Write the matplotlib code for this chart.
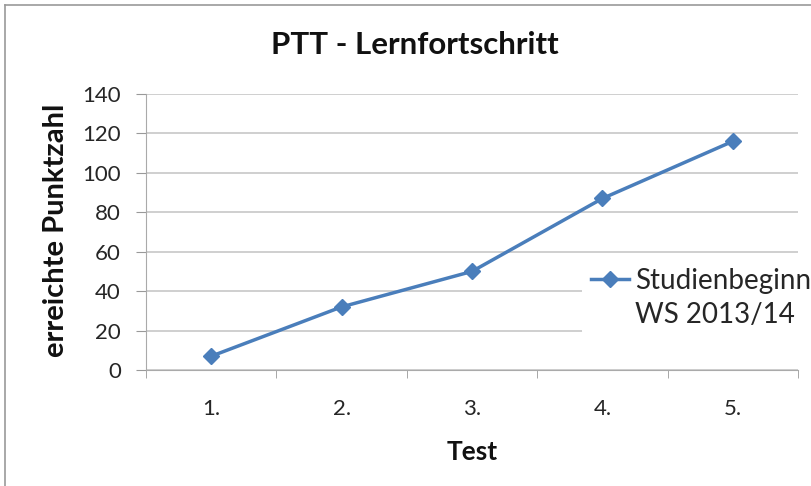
import matplotlib.pyplot as plt
from matplotlib.lines import Line2D

# data
tests = ['1.', '2.', '3.', '4.', '5.']
punkte = [7, 32, 50, 87, 116]
yticks = [0, 20, 40, 60, 80, 100, 120, 140]

plt.rcParams['font.family'] = ['Lato', 'DejaVu Sans']

fig = plt.figure(figsize=(8.12, 4.86), dpi=100)
ax = fig.add_axes([146 / 812, 1 - 370 / 486, 652 / 812, 276 / 486])

blue = '#4a7ebb'
dark = '#262626'
x = list(range(len(tests)))
line, = ax.plot(x, punkte, color=blue, linewidth=2.5, marker='D', markersize=8, zorder=4)

ax.set_xlim(-0.5, len(tests) - 0.5)
ax.set_ylim(0, 140)
ax.set_yticks(yticks)
ax.set_xticks(x)
ax.set_xticklabels(tests)
ax.set_xticks([i - 0.5 for i in range(len(tests) + 1)], minor=True)
ax.tick_params(axis='x', which='major', length=0, pad=21, labelsize=16, labelcolor=dark)
ax.tick_params(axis='x', which='minor', length=6, color='#999999', direction='out')
ax.tick_params(axis='y', length=7, color='#999999', labelsize=16, pad=11, labelcolor=dark)

ax.grid(axis='y', color='#cccccc', linewidth=1.3)
ax.set_axisbelow(True)
for s in ['top', 'right']:
    ax.spines[s].set_visible(False)
ax.spines['left'].set_color('#aaaaaa')
ax.spines['bottom'].set_color('#aaaaaa')

fig.text(415 / 812, 1 - 45 / 486, 'PTT - Lernfortschritt', fontsize=22.5,
         fontweight='bold', ha='center', va='center', color='#111111')
ax.set_xlabel('Test', fontsize=19, fontweight='bold', labelpad=15, color='#111111')
fig.text(56 / 812, 1 - 230 / 486, 'erreichte Punktzahl', fontsize=21, fontweight='bold',
         rotation=90, ha='center', va='center', color='#111111')

# legend: label split over two rows, marker only on the first one
blank = Line2D([], [], color='none')
leg = ax.legend([line, blank], ['Studienbeginn', 'WS 2013/14'],
                loc='upper left', bbox_to_anchor=(0.669, 0.40), frameon=True,
                fontsize=20, handlelength=1.4, handletextpad=0.2,
                labelspacing=0.3, borderpad=0.3, borderaxespad=0)
leg.get_frame().set_facecolor('white')
leg.get_frame().set_edgecolor('none')
leg.get_frame().set_alpha(1)
leg.set_zorder(3)
for t in leg.get_texts():
    t.set_color(dark)

# chart area border
fig.add_artist(Line2D([5 / 812, 5 / 812], [0, 1 - 5 / 486], color='#999999', linewidth=1.2))
fig.add_artist(Line2D([5 / 812, 1], [1 - 5 / 486, 1 - 5 / 486], color='#999999', linewidth=1.2))

fig.savefig('out.png', dpi=100)
